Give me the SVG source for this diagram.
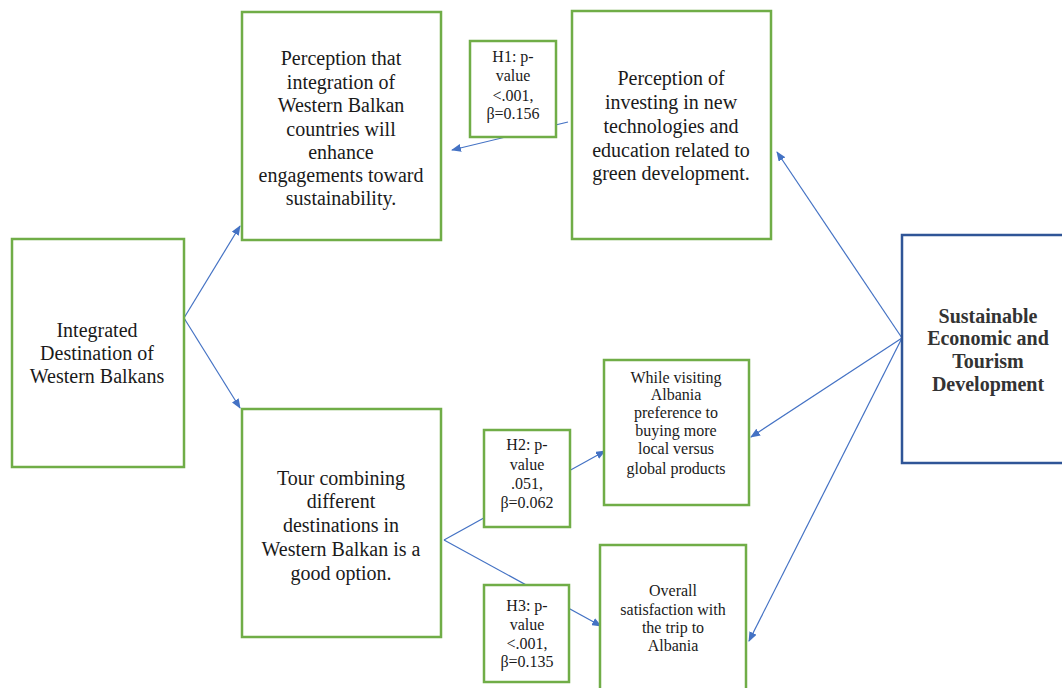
<svg xmlns="http://www.w3.org/2000/svg" width="1062" height="688" viewBox="0 0 1062 688">
  <defs>
    <marker id="arrow" markerWidth="10" markerHeight="8" refX="9" refY="4" orient="auto" markerUnits="userSpaceOnUse">
      <path d="M0,0 L10,4 L0,8 Z" fill="#4472c4"/>
    </marker>
    <style>
      .box { fill: #ffffff; stroke: #70ad47; stroke-width: 2.5; }
      .bluebox { fill: #ffffff; stroke: #2f5597; stroke-width: 2.5; }
      .lbl { font-family: "Liberation Serif", "Times New Roman", serif; fill: #1a1a1a; text-anchor: middle; }
      .big { font-size: 20px; }
      .small { font-size: 16px; }
      .bold { font-size: 20px; font-weight: bold; fill: #333; }
      .conn { stroke: #4472c4; stroke-width: 1.2; fill: none; marker-end: url(#arrow); }
    </style>
  </defs>
  <rect width="1062" height="688" fill="#ffffff"/>

  <!-- connectors -->
  <g id="connectors">
    <line class="conn" x1="184" y1="318" x2="240" y2="226"/>
    <line class="conn" x1="184" y1="318" x2="240" y2="408"/>
    <line class="conn" x1="568" y1="122" x2="452" y2="150"/>
    <line class="conn" x1="444" y1="540" x2="605" y2="451"/>
    <line class="conn" x1="444" y1="540" x2="601" y2="626"/>
    <line class="conn" x1="902" y1="338" x2="777" y2="152"/>
    <line class="conn" x1="902" y1="338" x2="751" y2="437"/>
    <line class="conn" x1="902" y1="338" x2="749" y2="641"/>
  </g>

  <!-- nodes -->
  <g id="integrated">
    <rect class="box" x="12" y="239" width="172" height="228"/>
    <text class="lbl big" x="97" y="337">Integrated</text>
    <text class="lbl big" x="97" y="360">Destination of</text>
    <text class="lbl big" x="97" y="383">Western Balkans</text>
  </g>

  <g id="integration-perception">
    <rect class="box" x="242" y="12" width="199" height="228"/>
    <text class="lbl big" x="341" y="65">Perception that</text>
    <text class="lbl big" x="341" y="89">integration of</text>
    <text class="lbl big" x="341" y="112">Western Balkan</text>
    <text class="lbl big" x="341" y="136">countries will</text>
    <text class="lbl big" x="341" y="159">enhance</text>
    <text class="lbl big" x="341" y="182">engagements toward</text>
    <text class="lbl big" x="341" y="205">sustainability.</text>
  </g>

  <g id="investing-perception">
    <rect class="box" x="572" y="11" width="199" height="228"/>
    <text class="lbl big" x="671" y="85">Perception of</text>
    <text class="lbl big" x="671" y="109">investing in new</text>
    <text class="lbl big" x="671" y="133">technologies and</text>
    <text class="lbl big" x="671" y="157">education related to</text>
    <text class="lbl big" x="671" y="180">green development.</text>
  </g>

  <g id="h1">
    <rect class="box" x="470" y="41" width="86" height="96"/>
    <text class="lbl small" x="513" y="62">H1: p-</text>
    <text class="lbl small" x="513" y="81">value</text>
    <text class="lbl small" x="513" y="101">&lt;.001,</text>
    <text class="lbl small" x="513" y="119">β=0.156</text>
  </g>

  <g id="tour">
    <rect class="box" x="242" y="409" width="199" height="228"/>
    <text class="lbl big" x="341" y="485">Tour combining</text>
    <text class="lbl big" x="341" y="508">different</text>
    <text class="lbl big" x="341" y="532">destinations in</text>
    <text class="lbl big" x="341" y="556">Western Balkan is a</text>
    <text class="lbl big" x="341" y="580">good option.</text>
  </g>

  <g id="h2">
    <rect class="box" x="484" y="430" width="86" height="97"/>
    <text class="lbl small" x="527" y="450">H2: p-</text>
    <text class="lbl small" x="527" y="470">value</text>
    <text class="lbl small" x="527" y="489">.051,</text>
    <text class="lbl small" x="527" y="508">β=0.062</text>
  </g>

  <g id="h3">
    <rect class="box" x="484" y="585" width="85" height="97"/>
    <text class="lbl small" x="527" y="611">H3: p-</text>
    <text class="lbl small" x="527" y="630">value</text>
    <text class="lbl small" x="527" y="649">&lt;.001,</text>
    <text class="lbl small" x="527" y="667">β=0.135</text>
  </g>

  <g id="local-products">
    <rect class="box" x="604" y="360" width="145" height="145"/>
    <text class="lbl small" x="676" y="383">While visiting</text>
    <text class="lbl small" x="676" y="400">Albania</text>
    <text class="lbl small" x="676" y="418">preference to</text>
    <text class="lbl small" x="676" y="436">buying more</text>
    <text class="lbl small" x="676" y="454">local versus</text>
    <text class="lbl small" x="676" y="474">global products</text>
  </g>

  <g id="satisfaction">
    <rect class="box" x="600" y="545" width="146" height="150"/>
    <text class="lbl small" x="673" y="596">Overall</text>
    <text class="lbl small" x="673" y="615">satisfaction with</text>
    <text class="lbl small" x="673" y="633">the trip to</text>
    <text class="lbl small" x="673" y="651">Albania</text>
  </g>

  <g id="sustainable-development">
    <rect class="bluebox" x="902" y="235" width="170" height="228"/>
    <text class="lbl bold" x="988" y="323">Sustainable</text>
    <text class="lbl bold" x="988" y="345">Economic and</text>
    <text class="lbl bold" x="988" y="368">Tourism</text>
    <text class="lbl bold" x="988" y="391">Development</text>
  </g>
</svg>
